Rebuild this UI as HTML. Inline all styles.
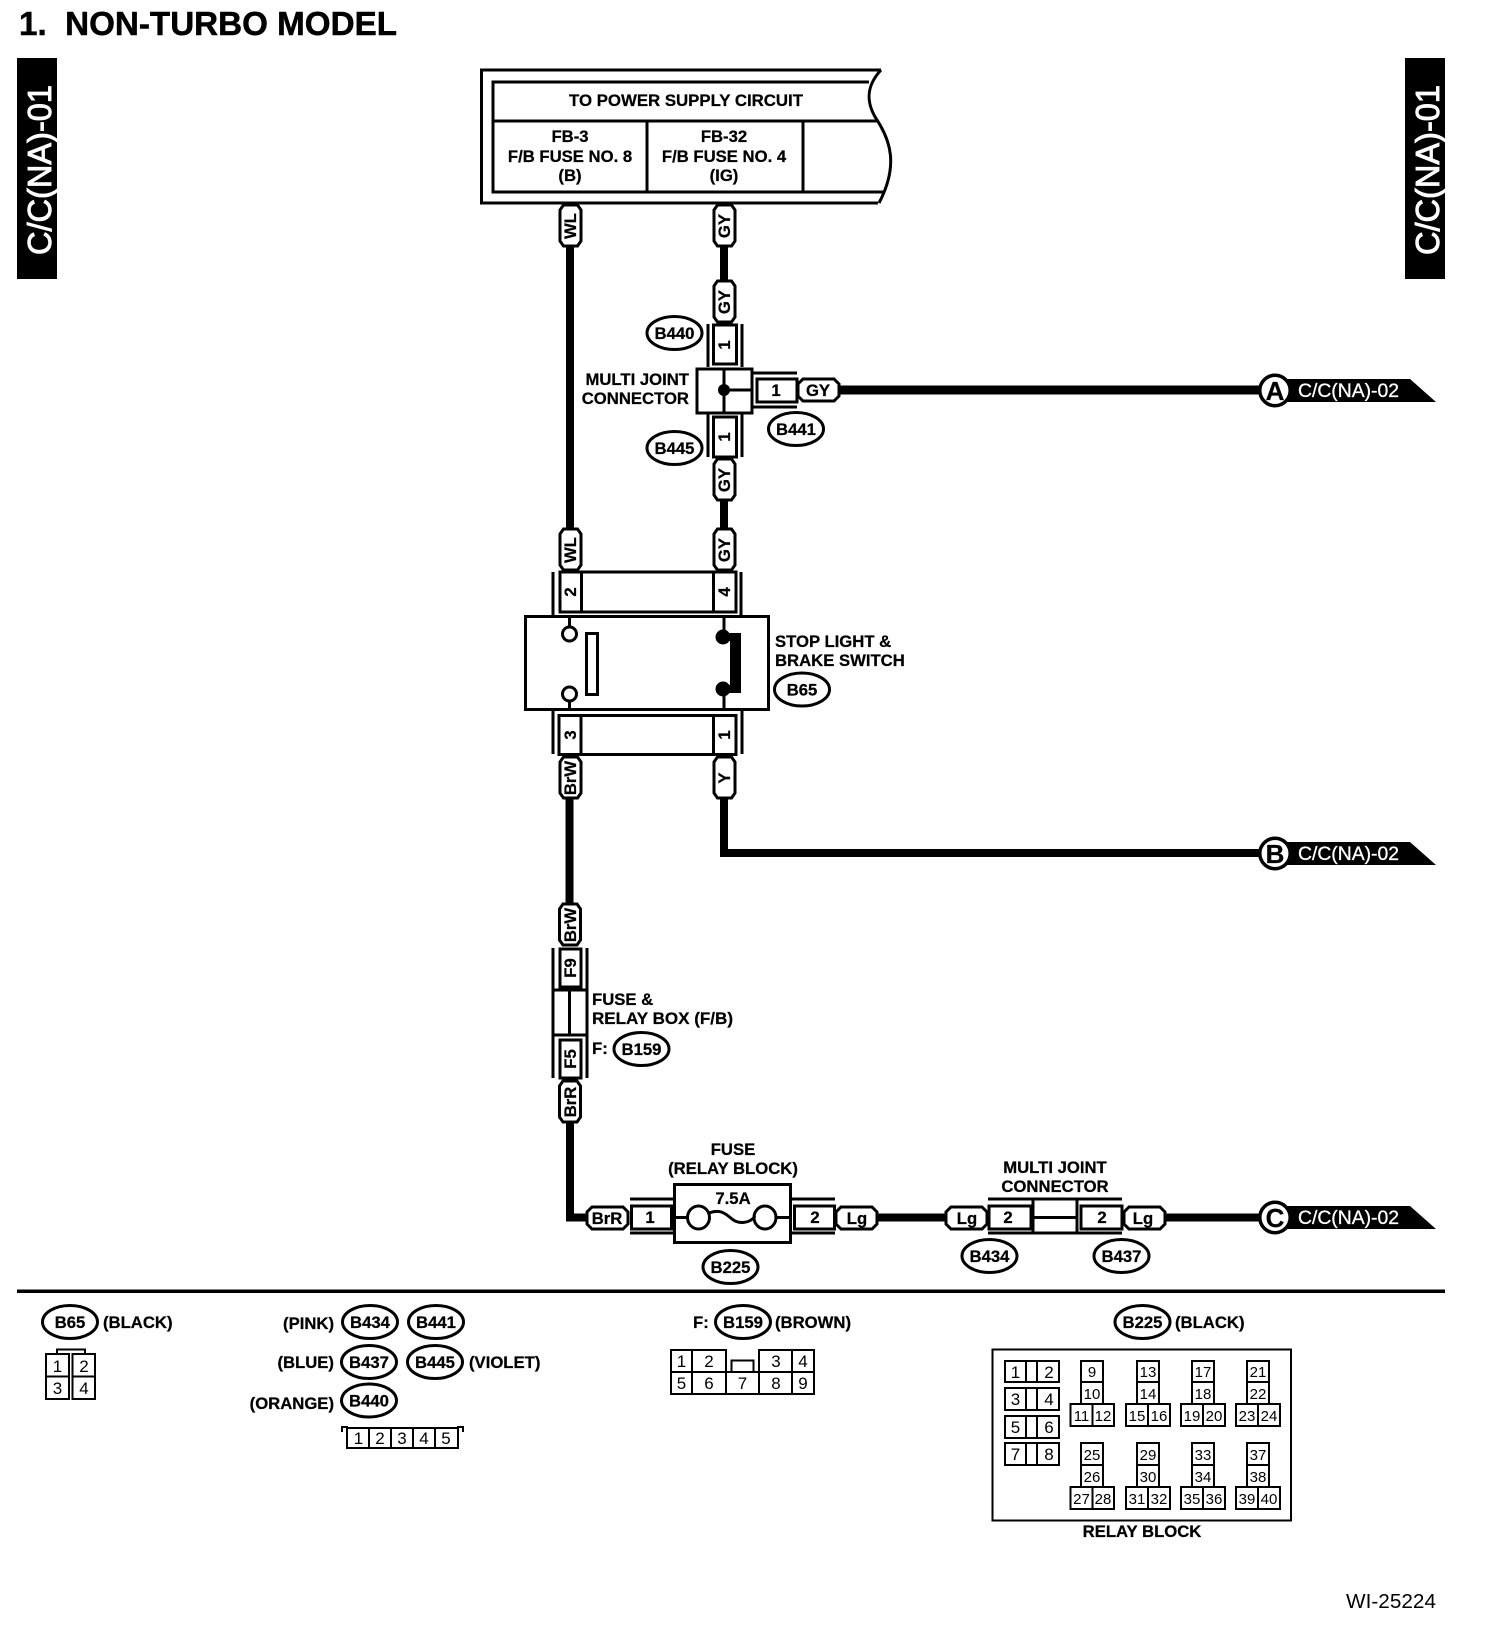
<!DOCTYPE html>
<html><head><meta charset="utf-8"><style>
html,body{margin:0;padding:0;background:#fff}
svg{display:block}
text{font-family:"Liberation Sans",sans-serif;font-weight:bold;font-size:16.7px;fill:#000;stroke:#000;stroke-width:.25px}
.m{text-anchor:middle}
.e{text-anchor:end}
.r{font-weight:normal;font-size:17px;text-anchor:middle;stroke:none}
.s{font-size:15px;font-weight:normal;text-anchor:middle;stroke:none}
.w{fill:#fff;stroke:#fff;stroke-width:.5px}
.l{fill:none;stroke:#000;stroke-width:3}
.t{fill:none;stroke:#000;stroke-width:2}
.c{fill:#fff;stroke:#000;stroke-width:2}
.ov{fill:#fff;stroke:#000;stroke-width:3}
</style></head><body>
<svg width="1504" height="1632" viewBox="0 0 1504 1632" xmlns="http://www.w3.org/2000/svg">
<defs>
<polygon id="vp" points="-7,1 7,1 10.500,6 10.500,37 7,42 -7,42 -10.500,37 -10.500,6" fill="#fff" stroke="#000" stroke-width="3"/>
<polygon id="hp" points="6,1 37,1 42,6 42,18 37,23 6,23 1,18 1,6" fill="#fff" stroke="#000" stroke-width="3"/>
<ellipse id="ov" cx="0" cy="0" rx="27.500" ry="16.500" fill="#fff" stroke="#000" stroke-width="3"/>
</defs>
<rect width="1504" height="1632" fill="#fff"/>

<text x="19" y="35" style="font-size:33px;white-space:pre;stroke-width:.5px" textLength="378" lengthAdjust="spacingAndGlyphs" xml:space="preserve">1.  NON-TURBO MODEL</text>

<rect x="17" y="58" width="40" height="221" fill="#000"/>
<text class="w" transform="translate(51,255) rotate(-90)" style="font-size:33px;font-weight:normal;stroke-width:.9px" textLength="170" lengthAdjust="spacingAndGlyphs">C/C(NA)-01</text>
<rect x="1405" y="58" width="40" height="221" fill="#000"/>
<text class="w" transform="translate(1439,255) rotate(-90)" style="font-size:33px;font-weight:normal;stroke-width:.9px" textLength="170" lengthAdjust="spacingAndGlyphs">C/C(NA)-01</text>

<!-- wires -->
<g fill="none" stroke="#000" stroke-width="8">
<path d="M570 240V535"/>
<path d="M724 240V285M724 495V535"/>
<path d="M835 390H1265" stroke-width="9"/>
<path d="M569.500 790V910"/>
<path d="M724 790V853H1265"/>
<path d="M570 1118V1217.500H592"/>
<path d="M875 1217.500H950M1160 1217.500H1265"/>
</g>

<!-- power box -->
<path d="M881 70H481.500V203H878" class="l"/>
<path d="M881 70C868 84 864 100 877 120C890 140 899 165 879 203" class="l"/>
<path d="M869 82H493V192H885M493 121H877M647 121V192M803 121V192" class="l"/>
<text class="m" x="686" y="106" textLength="234" lengthAdjust="spacingAndGlyphs">TO POWER SUPPLY CIRCUIT</text>
<text class="m" x="570" y="142">FB-3</text>
<text class="m" x="570" y="162">F/B FUSE NO. 8</text>
<text class="m" x="570" y="181">(B)</text>
<text class="m" x="724" y="142">FB-32</text>
<text class="m" x="724" y="162">F/B FUSE NO. 4</text>
<text class="m" x="724" y="181">(IG)</text>

<!-- vertical pills -->
<use href="#vp" x="570.500" y="204"/><text class="m" transform="translate(576,226) rotate(-90)">WL</text>
<use href="#vp" x="724.500" y="204"/><text class="m" transform="translate(730,226) rotate(-90)">GY</text>
<use href="#vp" x="724.500" y="280"/><text class="m" transform="translate(730,302) rotate(-90)">GY</text>
<use href="#vp" x="724.500" y="458"/><text class="m" transform="translate(730,480) rotate(-90)">GY</text>
<use href="#vp" x="570.500" y="528"/><text class="m" transform="translate(576,550) rotate(-90)">WL</text>
<use href="#vp" x="724.500" y="528"/><text class="m" transform="translate(730,550) rotate(-90)">GY</text>
<use href="#vp" x="570.500" y="756"/><text class="m" transform="translate(576,778) rotate(-90)">BrW</text>
<use href="#vp" x="724.500" y="756"/><text class="m" transform="translate(730,778) rotate(-90)">Y</text>
<use href="#vp" x="570" y="903"/><text class="m" transform="translate(576,925) rotate(-90)">BrW</text>
<use href="#vp" x="570" y="1080"/><text class="m" transform="translate(576,1102) rotate(-90)">BrR</text>

<!-- multi joint -->
<rect x="713.500" y="325" width="23" height="39" class="l"/>
<path d="M708 324V367M742 324V367M708 414V457M742 414V457" class="l"/>
<text class="m" transform="translate(730,345) rotate(-90)">1</text>
<rect x="697" y="369" width="55" height="44" class="l"/>
<path d="M724 369V413M724 390H752" class="l"/>
<circle cx="724" cy="390" r="6" fill="#000"/>
<path d="M752 373H797M752 407H797" class="l"/>
<rect x="757" y="379" width="40" height="23" class="l"/>
<text class="m" x="776" y="396">1</text>
<rect x="713.500" y="417" width="23" height="40" class="l"/>
<text class="m" transform="translate(730,437) rotate(-90)">1</text>
<use href="#hp" x="797" y="378"/><text class="m" x="818" y="396">GY</text>
<text class="e" x="689" y="385">MULTI JOINT</text>
<text class="e" x="689" y="404">CONNECTOR</text>
<use href="#ov" x="674.500" y="333"/><text class="m" x="674.500" y="339">B440</text>
<use href="#ov" x="674.500" y="448"/><text class="m" x="674.500" y="454">B445</text>
<use href="#ov" x="796" y="429"/><text class="m" x="796" y="435">B441</text>

<!-- stop switch -->
<path d="M553 572V615M741 572V615" class="l"/>
<rect x="560" y="572" width="176" height="40" class="l"/>
<path d="M581.500 572V612M713.500 572V612" class="l"/>
<text class="m" transform="translate(576,592) rotate(-90)">2</text>
<text class="m" transform="translate(730,592) rotate(-90)">4</text>
<rect x="525.500" y="616.500" width="243" height="93" class="l"/>
<path d="M569.500 616V627M569.500 701V710M724 616V632M724 694V710" class="l"/>
<circle cx="569.500" cy="634" r="7" class="ov"/>
<circle cx="569.500" cy="694" r="7" class="ov"/>
<rect x="586.500" y="633.500" width="11" height="61" class="l"/>
<circle cx="723" cy="637" r="7.500" fill="#000"/>
<circle cx="723" cy="689" r="7.500" fill="#000"/>
<path d="M723 633H741V693H723V685H730V641H723Z" fill="#000"/>
<path d="M553 711V754M742 711V754" class="l"/>
<rect x="559" y="715.500" width="177" height="39" class="l"/>
<path d="M581 715V755M713.500 715V755" class="l"/>
<text class="m" transform="translate(576,735) rotate(-90)">3</text>
<text class="m" transform="translate(730,735) rotate(-90)">1</text>
<text x="775" y="647">STOP LIGHT &amp;</text>
<text x="775" y="666">BRAKE SWITCH</text>
<use href="#ov" x="802" y="689.500"/><text class="m" x="802" y="695.500">B65</text>

<!-- fuse & relay box -->
<path d="M553 948V1078M587 948V1078" class="l"/>
<rect x="560" y="949" width="21" height="38" class="l"/>
<text class="m" transform="translate(576,968) rotate(-90)">F9</text>
<path d="M553 990H587M553 1035H587M569.500 990V1035" class="l"/>
<rect x="560" y="1040" width="21" height="38" class="l"/>
<text class="m" transform="translate(576,1059) rotate(-90)">F5</text>
<text x="592" y="1005">FUSE &amp;</text>
<text x="592" y="1024" textLength="141" lengthAdjust="spacingAndGlyphs">RELAY BOX (F/B)</text>
<text x="592" y="1054">F:</text>
<use href="#ov" x="641.500" y="1049"/><text class="m" x="641.500" y="1055">B159</text>

<!-- bottom run -->
<use href="#hp" x="586" y="1206"/><text class="m" x="607" y="1224">BrR</text>
<path d="M630 1199H674M630 1233H674" class="l"/>
<rect x="631.500" y="1206" width="40" height="23" class="l"/>
<text class="m" x="650" y="1223">1</text>
<rect x="674.500" y="1184.500" width="116" height="58" class="l"/>
<path d="M674 1217.500H687M776 1217.500H791" class="l"/>
<ellipse cx="698.500" cy="1217.500" rx="11" ry="11.500" class="ov"/>
<ellipse cx="765" cy="1217.500" rx="11" ry="11.500" class="ov"/>
<path d="M709 1213C720 1209 725 1213 732 1219C738 1224 750 1224 755 1216" class="l"/>
<text class="m" x="733" y="1204">7.5A</text>
<text class="m" x="733" y="1155">FUSE</text>
<text class="m" x="733" y="1174">(RELAY BLOCK)</text>
<path d="M791 1199H835M791 1233H835" class="l"/>
<rect x="794.500" y="1206" width="40" height="23" class="l"/>
<text class="m" x="815" y="1223">2</text>
<use href="#hp" x="835" y="1206"/><text class="m" x="857" y="1224">Lg</text>
<use href="#hp" x="945" y="1206"/><text class="m" x="967" y="1224">Lg</text>
<path d="M988 1199H1122M988 1233H1122" class="l"/>
<rect x="989" y="1206" width="42" height="23" class="l"/>
<text class="m" x="1008" y="1223">2</text>
<path d="M1033 1199V1233M1077 1199V1233M1033 1217.500H1077" class="l"/>
<rect x="1081" y="1206" width="41" height="23" class="l"/>
<text class="m" x="1102" y="1223">2</text>
<use href="#hp" x="1123" y="1206"/><text class="m" x="1143" y="1224">Lg</text>
<text class="m" x="1055" y="1173">MULTI JOINT</text>
<text class="m" x="1055" y="1192">CONNECTOR</text>
<use href="#ov" x="730.500" y="1267"/><text class="m" x="730.500" y="1273">B225</text>
<use href="#ov" x="989.500" y="1256"/><text class="m" x="989.500" y="1262">B434</text>
<use href="#ov" x="1121.500" y="1256"/><text class="m" x="1121.500" y="1262">B437</text>

<!-- connectors A B C -->
<polygon points="1274,379 1410,379 1436,402 1274,402" fill="#000"/>
<circle cx="1275" cy="390.500" r="15.200" fill="#fff" stroke="#000" stroke-width="3.500"/>
<text class="m" x="1275" y="400" style="font-size:26px">A</text>
<text class="w" x="1298" y="397" style="font-size:19px;font-weight:normal;stroke-width:.3px" textLength="101" lengthAdjust="spacingAndGlyphs">C/C(NA)-02</text>
<polygon points="1274,842 1410,842 1436,865 1274,865" fill="#000"/>
<circle cx="1275" cy="853.500" r="15.200" fill="#fff" stroke="#000" stroke-width="3.500"/>
<text class="m" x="1275" y="863" style="font-size:26px">B</text>
<text class="w" x="1298" y="860" style="font-size:19px;font-weight:normal;stroke-width:.3px" textLength="101" lengthAdjust="spacingAndGlyphs">C/C(NA)-02</text>
<polygon points="1274,1206 1410,1206 1436,1229 1274,1229" fill="#000"/>
<circle cx="1275" cy="1217.500" r="15.200" fill="#fff" stroke="#000" stroke-width="3.500"/>
<text class="m" x="1275" y="1227" style="font-size:26px">C</text>
<text class="w" x="1298" y="1224" style="font-size:19px;font-weight:normal;stroke-width:.3px" textLength="101" lengthAdjust="spacingAndGlyphs">C/C(NA)-02</text>

<!-- separator -->
<rect x="17" y="1289.500" width="1428" height="3.500" fill="#000"/>

<!-- legend B65 -->
<use href="#ov" x="70" y="1322"/><text class="m" x="70" y="1328">B65</text>
<text x="103" y="1328">(BLACK)</text>
<path d="M57 1354V1349.500H85V1354" class="t"/>
<rect x="46" y="1354" width="23" height="22.500" class="t"/><rect x="72.500" y="1354" width="22.500" height="22.500" class="t"/>
<rect x="46" y="1376.500" width="23" height="22.500" class="t"/><rect x="72.500" y="1376.500" width="22.500" height="22.500" class="t"/>
<text class="r" x="57.500" y="1372">1</text><text class="r" x="84" y="1372">2</text>
<text class="r" x="57.500" y="1394">3</text><text class="r" x="84" y="1394">4</text>

<!-- legend pins -->
<text class="e" x="334" y="1329">(PINK)</text>
<use href="#ov" x="370" y="1322"/><text class="m" x="370" y="1328">B434</text>
<use href="#ov" x="436" y="1322"/><text class="m" x="436" y="1328">B441</text>
<text class="e" x="334" y="1368">(BLUE)</text>
<use href="#ov" x="369" y="1362"/><text class="m" x="369" y="1368">B437</text>
<use href="#ov" x="435" y="1362"/><text class="m" x="435" y="1368">B445</text>
<text x="469" y="1368">(VIOLET)</text>
<text class="e" x="334" y="1409">(ORANGE)</text>
<use href="#ov" x="369" y="1400.500"/><text class="m" x="369" y="1406.500">B440</text>
<path d="M342 1432V1427H347V1448H458V1427H463V1432" class="t"/>
<path d="M347 1428H458M369 1428V1448M391 1428V1448M413 1428V1448M435 1428V1448" class="t"/>
<text class="r" x="358.500" y="1444">1</text><text class="r" x="380" y="1444">2</text><text class="r" x="402" y="1444">3</text><text class="r" x="424" y="1444">4</text><text class="r" x="446" y="1444">5</text>

<!-- legend B159 -->
<text x="693" y="1328">F:</text>
<use href="#ov" x="743" y="1322"/><text class="m" x="743" y="1328">B159</text>
<text x="775" y="1328">(BROWN)</text>
<path d="M671 1372V1350H726V1372M759 1372V1350H814V1372M671 1372H814V1394H671ZM692 1350V1394M726 1372V1394M759 1372V1394M792 1350V1394" class="t"/>
<rect x="731.500" y="1360.500" width="22" height="11.500" class="t"/>
<text class="r" x="681.500" y="1367">1</text><text class="r" x="709" y="1367">2</text><text class="r" x="776" y="1367">3</text><text class="r" x="803" y="1367">4</text>
<text class="r" x="681.500" y="1389">5</text><text class="r" x="709" y="1389">6</text><text class="r" x="742.500" y="1389">7</text><text class="r" x="776" y="1389">8</text><text class="r" x="803" y="1389">9</text>

<!-- legend B225 relay block -->
<use href="#ov" x="1142.500" y="1322"/><text class="m" x="1142.500" y="1328">B225</text>
<text x="1175" y="1328">(BLACK)</text>
<rect x="992.500" y="1349.500" width="298.500" height="171" class="t"/>
<text class="m" x="1142" y="1537">RELAY BLOCK</text>

<path d="M1005 1361H1059V1382H1005ZM1026 1361V1382M1037 1361V1382M1005 1388H1059V1410H1005ZM1026 1388V1410M1037 1388V1410M1005 1416H1059V1438H1005ZM1026 1416V1438M1037 1416V1438M1005 1443H1059V1465H1005ZM1026 1443V1465M1037 1443V1465" class="t"/>
<text class="r" x="1015.500" y="1378">1</text><text class="r" x="1049" y="1378">2</text>
<text class="r" x="1015.500" y="1405">3</text><text class="r" x="1049" y="1405">4</text>
<text class="r" x="1015.500" y="1433">5</text><text class="r" x="1049" y="1433">6</text>
<text class="r" x="1015.500" y="1460">7</text><text class="r" x="1049" y="1460">8</text>

<path class="t" d="M1081 1361H1103V1404H1081ZM1081 1382H1103M1070.500 1404H1114V1426H1070.500ZM1092.500 1404V1426"/>
<path class="t" d="M1137 1361H1159V1404H1137ZM1137 1382H1159M1126 1404H1170V1426H1126ZM1148 1404V1426"/>
<path class="t" d="M1192 1361H1214V1404H1192ZM1192 1382H1214M1181 1404H1225V1426H1181ZM1203 1404V1426"/>
<path class="t" d="M1247 1361H1269V1404H1247ZM1247 1382H1269M1236 1404H1280V1426H1236ZM1258 1404V1426"/>
<path class="t" d="M1081 1443H1103V1487H1081ZM1081 1465H1103M1070.500 1487H1114V1509H1070.500ZM1092.500 1487V1509"/>
<path class="t" d="M1137 1443H1159V1487H1137ZM1137 1465H1159M1126 1487H1170V1509H1126ZM1148 1487V1509"/>
<path class="t" d="M1192 1443H1214V1487H1192ZM1192 1465H1214M1181 1487H1225V1509H1181ZM1203 1487V1509"/>
<path class="t" d="M1247 1443H1269V1487H1247ZM1247 1465H1269M1236 1487H1280V1509H1236ZM1258 1487V1509"/>

<text class="s" x="1092" y="1377">9</text><text class="s" x="1092" y="1399">10</text><text class="s" x="1081.500" y="1421">11</text><text class="s" x="1103" y="1421">12</text>
<text class="s" x="1148" y="1377">13</text><text class="s" x="1148" y="1399">14</text><text class="s" x="1137" y="1421">15</text><text class="s" x="1159" y="1421">16</text>
<text class="s" x="1203" y="1377">17</text><text class="s" x="1203" y="1399">18</text><text class="s" x="1192" y="1421">19</text><text class="s" x="1214" y="1421">20</text>
<text class="s" x="1258" y="1377">21</text><text class="s" x="1258" y="1399">22</text><text class="s" x="1247" y="1421">23</text><text class="s" x="1269" y="1421">24</text>
<text class="s" x="1092" y="1460">25</text><text class="s" x="1092" y="1482">26</text><text class="s" x="1081.500" y="1504">27</text><text class="s" x="1103" y="1504">28</text>
<text class="s" x="1148" y="1460">29</text><text class="s" x="1148" y="1482">30</text><text class="s" x="1137" y="1504">31</text><text class="s" x="1159" y="1504">32</text>
<text class="s" x="1203" y="1460">33</text><text class="s" x="1203" y="1482">34</text><text class="s" x="1192" y="1504">35</text><text class="s" x="1214" y="1504">36</text>
<text class="s" x="1258" y="1460">37</text><text class="s" x="1258" y="1482">38</text><text class="s" x="1247" y="1504">39</text><text class="s" x="1269" y="1504">40</text>

<text x="1346" y="1608" style="font-size:20px;font-weight:normal;stroke:none" textLength="90" lengthAdjust="spacingAndGlyphs">WI-25224</text>
</svg>
</body></html>
